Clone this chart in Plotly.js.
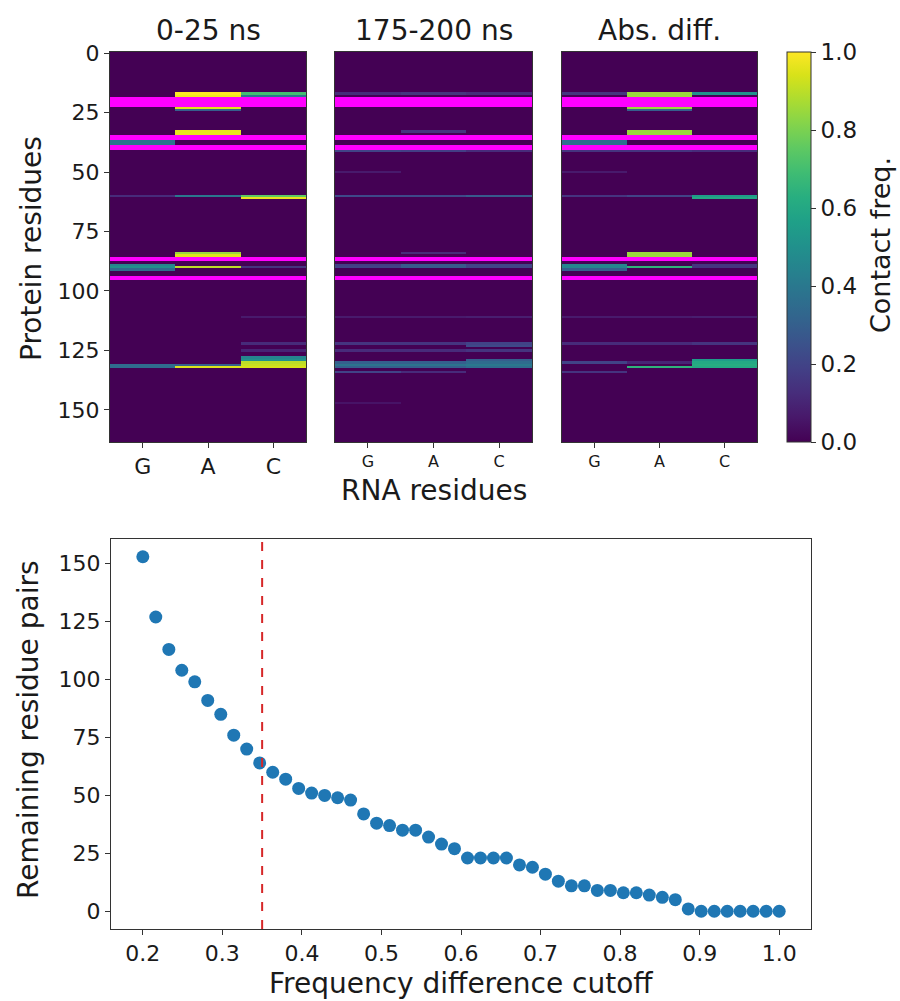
<!DOCTYPE html>
<html>
<head>
<meta charset="utf-8">
<script src="https://cdn.plot.ly/plotly-3.0.1.min.js"></script>
<style>html,body{margin:0;padding:0;background:#fff;}#chart{width:900px;height:1001px;}</style>
</head>
<body>
<div id="chart"></div>
<script>
// ---------------- DATA ----------------
const rnaResidues = ['G', 'A', 'C'];
const proteinResidueCount = 164;
const panelTitles = ['0-25 ns', '175-200 ns', 'Abs. diff.'];

// sparse contact frequencies: [protein residue, RNA residue, frequency]
const contacts0to25 = [
  [17,'A',1.0],[18,'A',0.98],[17,'C',0.7],[18,'C',0.4],
  [23,'A',0.95],[24,'A',0.3],
  [33,'A',0.97],[34,'A',0.97],
  [37,'G',0.38],[38,'G',0.38],
  [60,'G',0.12],[60,'A',0.4],[60,'C',0.75],[61,'C',0.97],
  [84,'A',0.85],[85,'A',0.95],
  [89,'G',0.45],[90,'G',0.5],[91,'G',0.35],[90,'A',0.9],[90,'C',0.15],
  [111,'C',0.07],[122,'C',0.12],[125,'C',0.1],
  [128,'C',0.45],[129,'C',0.5],[130,'C',0.9],[131,'C',0.92],[132,'C',0.94],
  [131,'G',0.35],[132,'G',0.35],[131,'A',0.3],[132,'A',0.95]
];
const contacts175to200 = [
  [17,'G',0.12],[17,'A',0.15],[17,'C',0.12],
  [33,'A',0.15],
  [41,'G',0.2],[41,'A',0.18],[41,'C',0.12],
  [50,'G',0.07],
  [60,'G',0.22],[60,'A',0.22],[60,'C',0.28],
  [84,'A',0.12],
  [89,'G',0.18],[90,'G',0.2],[89,'A',0.28],[90,'A',0.28],[89,'C',0.2],[90,'C',0.2],
  [111,'G',0.07],[111,'A',0.07],[111,'C',0.08],
  [122,'G',0.15],[122,'A',0.15],[122,'C',0.2],[123,'C',0.22],
  [125,'G',0.12],[125,'A',0.12],[125,'C',0.15],
  [130,'G',0.3],[131,'G',0.38],[132,'G',0.3],
  [130,'A',0.3],[131,'A',0.38],[132,'A',0.3],
  [129,'C',0.3],[130,'C',0.35],[131,'C',0.4],[132,'C',0.35],
  [134,'G',0.2],[134,'A',0.12],[147,'G',0.05]
];
const contactsAbsDiff = [
  [17,'G',0.15],[17,'A',0.85],[18,'A',0.85],[17,'C',0.5],
  [23,'A',0.85],[24,'A',0.3],
  [33,'A',0.85],[34,'A',0.85],
  [37,'G',0.36],[38,'G',0.36],
  [41,'G',0.15],[41,'A',0.15],[41,'C',0.12],
  [50,'G',0.07],
  [60,'G',0.15],[60,'A',0.2],[60,'C',0.55],[61,'C',0.6],
  [84,'A',0.85],[85,'A',0.85],
  [89,'G',0.45],[90,'G',0.45],[91,'G',0.3],[90,'A',0.65],[89,'C',0.15],[90,'C',0.15],
  [111,'G',0.07],[111,'A',0.07],[111,'C',0.08],
  [122,'G',0.12],[122,'A',0.12],[122,'C',0.15],
  [130,'G',0.2],[130,'A',0.1],
  [129,'C',0.55],[130,'C',0.6],[131,'C',0.62],[132,'C',0.6],
  [132,'A',0.65],
  [134,'G',0.15]
];
// protein residues highlighted in magenta
const highlightedResidues = [19,20,21,22,35,36,39,40,86,87,94,95];

const cutoffs = [0.2000,0.2163,0.2327,0.2490,0.2653,0.2816,0.2980,0.3143,0.3306,0.3469,
  0.3633,0.3796,0.3959,0.4122,0.4286,0.4449,0.4612,0.4776,0.4939,0.5102,
  0.5265,0.5429,0.5592,0.5755,0.5918,0.6082,0.6245,0.6408,0.6571,0.6735,
  0.6898,0.7061,0.7224,0.7388,0.7551,0.7714,0.7878,0.8041,0.8204,0.8367,
  0.8531,0.8694,0.8857,0.9020,0.9184,0.9347,0.9510,0.9673,0.9837,1.0000];
const remainingPairs = [153,127,113,104,99,91,85,76,70,64,
  60,57,53,51,50,49,48,42,38,37,
  35,35,32,29,27,23,23,23,23,20,
  19,16,13,11,11,9,9,8,8,7,
  6,5,1,0,0,0,0,0,0,0];
const chosenCutoff = 0.35;

// ---------------- BUILD ----------------
const proteinIdx = Array.from({length: proteinResidueCount}, (_, i) => i);
function toMatrix(entries) {
  const m = proteinIdx.map(() => rnaResidues.map(() => 0));
  entries.forEach(([r, c, v]) => { m[r][rnaResidues.indexOf(c)] = v; });
  return m;
}
const highlightZ = proteinIdx.map(i => rnaResidues.map(() => highlightedResidues.includes(i) ? 1 : null));

const W = 900, H = 1001;
const px = v => v / W, py = v => 1 - v / H;
const FONT = 'DejaVu Sans, Liberation Sans, sans-serif';
const TXT = '#1a1a1a';

const hmYDomain = [py(442), py(52)];
const hmXDomains = [[px(110), px(306)], [px(335), px(532)], [px(562), px(757)]];
const matrices = [toMatrix(contacts0to25), toMatrix(contacts175to200), toMatrix(contactsAbsDiff)];

const traces = [];
matrices.forEach((z, k) => {
  const ax = k === 0 ? '' : String(k + 1);
  const t = {
    type: 'heatmap', x: rnaResidues, y: proteinIdx, z: z,
    xaxis: 'x' + ax, yaxis: 'y' + ax,
    colorscale: 'Viridis', zmin: 0, zmax: 1, zsmooth: false,
    showscale: k === 0, hoverinfo: 'skip'
  };
  if (k === 0) {
    t.colorbar = {
      x: px(787), xanchor: 'left', xref: 'paper', xpad: 0, ypad: 0,
      y: hmYDomain[0], yanchor: 'bottom', len: hmYDomain[1] - hmYDomain[0], lenmode: 'fraction',
      thickness: 24, thicknessmode: 'pixels',
      outlinewidth: 1, outlinecolor: '#333',
      tickvals: [0, 0.2, 0.4, 0.6, 0.8, 1.0], tickformat: '.1f',
      ticks: 'outside', ticklen: 5, tickcolor: '#333',
      tickfont: {family: FONT, size: 23, color: TXT}
    };
  }
  traces.push(t);
  traces.push({
    type: 'heatmap', x: rnaResidues, y: proteinIdx, z: highlightZ,
    xaxis: 'x' + ax, yaxis: 'y' + ax,
    colorscale: [[0, '#ff00ff'], [1, '#ff00ff']], zmin: 0, zmax: 1,
    showscale: false, hoverinfo: 'skip', zsmooth: false
  });
});

traces.push({
  type: 'scatter', mode: 'markers', x: cutoffs, y: remainingPairs,
  xaxis: 'x4', yaxis: 'y4',
  marker: {color: '#1f77b4', size: 13}, hoverinfo: 'skip'
});

function hmX(k) {
  return {
    domain: hmXDomains[k], anchor: k === 0 ? 'y' : 'y' + (k + 1),
    type: 'category', range: [-0.5, 2.5],
    showline: true, mirror: true, linecolor: '#333', linewidth: 1,
    ticks: 'outside', ticklen: 5, tickcolor: '#333',
    tickfont: {family: FONT, size: k === 0 ? 22 : 16, color: TXT},
    showgrid: false, zeroline: false, fixedrange: true
  };
}
function hmY(k) {
  return {
    domain: hmYDomain, anchor: k === 0 ? 'x' : 'x' + (k + 1),
    range: [proteinResidueCount - 0.5, -0.5],
    showline: true, mirror: true, linecolor: '#333', linewidth: 1,
    ticks: k === 0 ? 'outside' : '', ticklen: 5, tickcolor: '#333',
    tickvals: [0, 25, 50, 75, 100, 125, 150], showticklabels: k === 0,
    tickfont: {family: FONT, size: 22, color: TXT},
    showgrid: false, zeroline: false
  };
}

const ann = (text, x, y, size, extra) => Object.assign({
  text: text, x: px(x), y: py(y), xref: 'paper', yref: 'paper',
  showarrow: false, xanchor: 'center', yanchor: 'middle',
  font: {family: FONT, size: size, color: TXT}
}, extra || {});

const layout = {
  width: W, height: H,
  margin: {l: 0, r: 0, t: 0, b: 0},
  paper_bgcolor: '#fff', plot_bgcolor: '#fff',
  showlegend: false,
  xaxis: hmX(0), yaxis: hmY(0),
  xaxis2: hmX(1), yaxis2: hmY(1),
  xaxis3: hmX(2), yaxis3: hmY(2),
  xaxis4: {
    domain: [px(111), px(811)], anchor: 'y4', range: [0.16, 1.04],
    tickvals: [0.2,0.3,0.4,0.5,0.6,0.7,0.8,0.9,1.0], tickformat: '.1f',
    showline: true, mirror: true, linecolor: '#333', linewidth: 1,
    ticks: 'outside', ticklen: 5, tickcolor: '#333',
    tickfont: {family: FONT, size: 22, color: TXT},
    showgrid: false, zeroline: false
  },
  yaxis4: {
    domain: [py(929), py(539)], anchor: 'x4', range: [-7.65, 160.65],
    tickvals: [0,25,50,75,100,125,150],
    showline: true, mirror: true, linecolor: '#333', linewidth: 1,
    ticks: 'outside', ticklen: 5, tickcolor: '#333',
    tickfont: {family: FONT, size: 22, color: TXT},
    showgrid: false, zeroline: false
  },
  shapes: [{
    type: 'line', xref: 'x4', yref: 'y4 domain', x0: chosenCutoff, x1: chosenCutoff, y0: 0, y1: 1,
    line: {color: '#d62728', width: 2, dash: 'dash'}
  }],
  annotations: [
    ann(panelTitles[0], 208, 31, 28),
    ann(panelTitles[1], 433.5, 31, 28),
    ann(panelTitles[2], 659.5, 31, 28),
    ann('Protein residues', 31, 249, 28, {textangle: -90}),
    ann('RNA residues', 433.5, 491, 28),
    ann('Contact freq.', 880, 245, 27, {textangle: -90, borderpad: 0}),
    ann('Remaining residue pairs', 28, 730, 28, {textangle: -90}),
    ann('Frequency difference cutoff', 461, 983, 28)
  ]
};

Plotly.newPlot('chart', traces, layout, {staticPlot: true, displayModeBar: false});
</script>
</body>
</html>
